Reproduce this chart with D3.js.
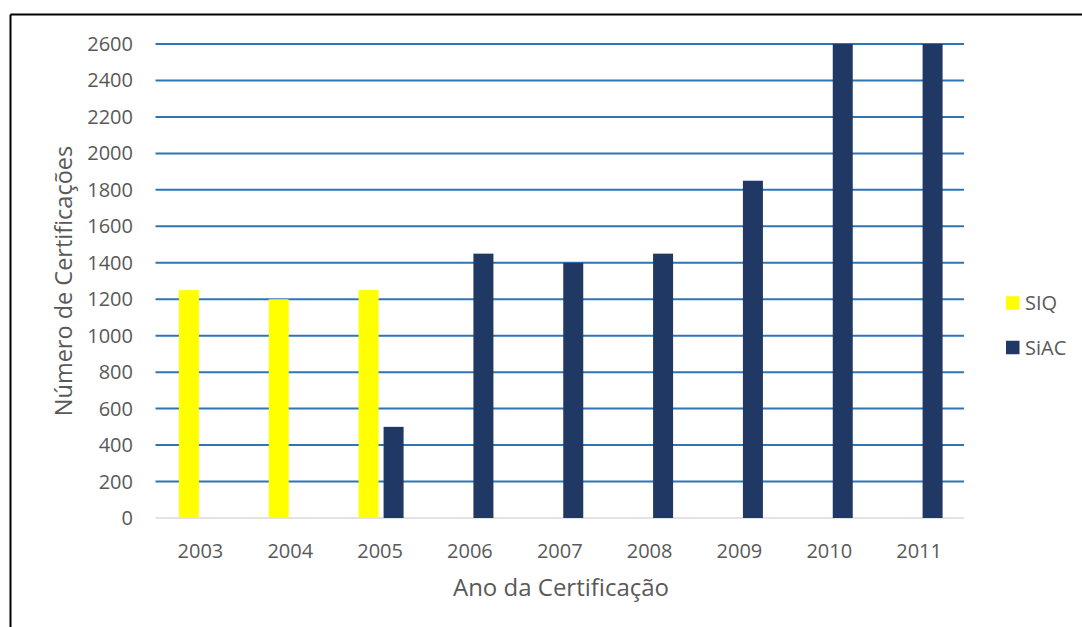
<!DOCTYPE html>
<html><head><meta charset="utf-8">
<script src="https://cdn.jsdelivr.net/npm/d3@7"></script>
<style>body{margin:0;background:#fff;}svg{display:block;}text{font-family:"Open Sans","Noto Sans",sans-serif;fill:#595959;}</style>
</head><body>
<svg id="c" width="1082" height="627"></svg>
<script>
const years = ["2003","2004","2005","2006","2007","2008","2009","2010","2011"];
const siq  = [1250, 1200, 1250, null, null, null, null, null, null];
const siac = [null, null, 500, 1450, 1400, 1450, 1850, 2600, 2600];
const yTicks = [0,200,400,600,800,1000,1200,1400,1600,1800,2000,2200,2400,2600];
const seriesNames = ["SIQ","SiAC"];
const colors = ["#FFFF00","#203864"];

(function(){
const svg = d3.select("#c");
svg.append("line").attr("x1",10.5).attr("y1",14.5).attr("x2",1082).attr("y2",14.5).attr("stroke","#000").attr("stroke-width",2);
svg.append("line").attr("x1",10.5).attr("y1",14.5).attr("x2",10.5).attr("y2",627).attr("stroke","#000").attr("stroke-width",2);

const pL=155.5, pR=964, pT=44, pB=518;
const x = d3.scaleBand().domain(years).range([pL,pR]);
const y = d3.scaleLinear().domain([0,2600]).range([pB,pT]);

svg.append("g").selectAll("line").data(yTicks.filter(d=>d>0)).join("line")
  .attr("x1",pL).attr("x2",pR).attr("y1",d=>y(d)).attr("y2",d=>y(d))
  .attr("stroke","#2E75B6").attr("stroke-width",2);
svg.append("line").attr("x1",pL).attr("x2",pR).attr("y1",y(0)).attr("y2",y(0))
  .attr("stroke","#D9D9D9").attr("stroke-width",1.5);

svg.append("g").selectAll("text").data(yTicks).join("text")
  .attr("x",133).attr("y",d=>y(d)).attr("dy","0.35em").attr("text-anchor","end")
  .attr("font-size",20).text(d=>d);

svg.append("g").selectAll("text").data(years).join("text")
  .attr("x",d=>x(d)+x.bandwidth()/2).attr("y",551).attr("dy","0.35em").attr("text-anchor","middle")
  .attr("font-size",20).text(d=>d);

const bw = 20;
const offsets = [-21.5, 3.5];
[siq, siac].forEach((vals, si) => {
  svg.append("g").selectAll("rect").data(years.map((yr,i)=>({yr, v:vals[i]})).filter(d=>d.v!=null)).join("rect")
    .attr("x",d=>x(d.yr)+x.bandwidth()/2+offsets[si])
    .attr("width",bw)
    .attr("y",d=>y(d.v))
    .attr("height",d=>y(0)-y(d.v))
    .attr("fill",colors[si]);
});

svg.append("text").attr("transform","translate(64,281) rotate(-90)").attr("dy","0.35em").attr("text-anchor","middle")
  .attr("font-size",23.5).text("Número de Certificações");
svg.append("text").attr("x",561).attr("y",588).attr("dy","0.35em").attr("text-anchor","middle")
  .attr("font-size",24).text("Ano da Certificação");

const lg = svg.append("g");
const ly = [303, 347.5];
seriesNames.forEach((n,i)=>{
  lg.append("rect").attr("x",1006).attr("y",ly[i]-6.75).attr("width",13.5).attr("height",13.5).attr("fill",colors[i]);
  lg.append("text").attr("x",1025).attr("y",ly[i]).attr("dy","0.35em").attr("font-size",20).text(n);
});
})();
</script>
</body></html>
